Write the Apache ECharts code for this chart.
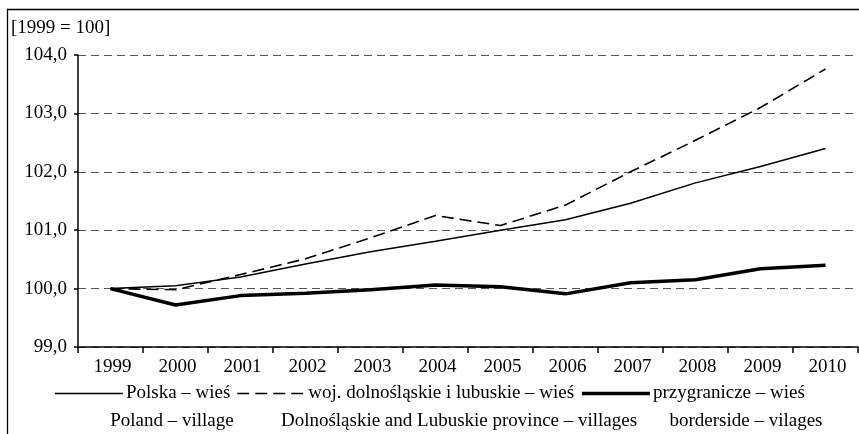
<!DOCTYPE html>
<html>
<head>
<meta charset="utf-8">
<script src="https://cdn.jsdelivr.net/npm/echarts@6/dist/echarts.min.js"></script>
<style>
html,body{margin:0;padding:0;background:#fff;}
#c{width:859px;height:434px;}
</style>
</head>
<body>
<div id="c"></div>
<script>
var years = ['1999','2000','2001','2002','2003','2004','2005','2006','2007','2008','2009','2010'];
var polska = [100.0, 100.05, 100.2, 100.42, 100.63, 100.81, 101.0, 101.18, 101.46, 101.81, 102.09, 102.4];
var dolnoLubuskie = [100.0, 99.98, 100.24, 100.51, 100.87, 101.25, 101.08, 101.43, 102.0, 102.54, 103.1, 103.76];
var przygranicze = [100.0, 99.72, 99.88, 99.92, 99.98, 100.06, 100.03, 99.91, 100.1, 100.15, 100.34, 100.4];
var seriesNames = ['Polska – wieś', 'woj. dolnośląskie i lubuskie – wieś', 'przygranicze – wieś'];
var englishNames = ['Poland – village', 'Dolnośląskie and Lubuskie province – villages', 'borderside – vilages'];
var yUnitLabel = '[1999 = 100]';

var FONT = "'Liberation Serif','Times New Roman',serif";
var FS = 19;
var lineStyles = [
  {color: '#000', width: 1.5, type: 'solid'},
  {color: '#000', width: 1.6, type: [12, 6]},
  {color: '#000', width: 3.5, type: 'solid'}
];
var chart = echarts.init(document.getElementById('c'), null, {renderer: 'canvas'});
var txt = {fontFamily: FONT, fontSize: FS, fill: '#000'};

chart.setOption({
  animation: false,
  backgroundColor: '#fff',
  textStyle: {fontFamily: FONT, color: '#000'},
  grid: {left: 78, right: 1, top: 55, bottom: 87, containLabel: false},
  graphic: [
    {type: 'rect', shape: {x: 7.5, y: 9.5, width: 1000, height: 600}, style: {fill: null, stroke: '#000', lineWidth: 1.3}, silent: true, z: -1},
    {type: 'text', x: 11, y: 28, style: Object.assign({text: yUnitLabel, verticalAlign: 'middle'}, txt)},
    {type: 'text', x: 172, y: 421, style: Object.assign({text: englishNames[0], align: 'center', verticalAlign: 'middle'}, txt)},
    {type: 'text', x: 459, y: 421, style: Object.assign({text: englishNames[1], align: 'center', verticalAlign: 'middle'}, txt)},
    {type: 'text', x: 746, y: 421, style: Object.assign({text: englishNames[2], align: 'center', verticalAlign: 'middle'}, txt)}
  ],
  legend: {
    left: 'center',
    top: 379,
    itemWidth: 68,
    itemHeight: 14,
    itemGap: 6,
    itemStyle: {opacity: 0},
    textStyle: {fontFamily: FONT, fontSize: FS, color: '#000', padding: [0,0,0,-2]},
    data: seriesNames.map(function(n, i){
      return {name: n, lineStyle: lineStyles[i], itemStyle: {opacity: 0}};
    })
  },
  xAxis: {
    type: 'category',
    data: years,
    boundaryGap: true,
    axisLine: {lineStyle: {color: '#000', width: 1.5}},
    axisTick: {show: true, length: 6, alignWithLabel: false, lineStyle: {color: '#000', width: 1.5}},
    axisLabel: {color: '#000', fontFamily: FONT, fontSize: FS, margin: 11, padding: [0,0,0,4]},
    splitLine: {show: false}
  },
  yAxis: {
    type: 'value',
    min: 99,
    max: 104,
    interval: 1,
    axisLine: {show: true, lineStyle: {color: '#000', width: 1.5}},
    axisTick: {show: true, length: 4, lineStyle: {color: '#000', width: 1.5}},
    axisLabel: {color: '#000', fontFamily: FONT, fontSize: FS, margin: 11,
      formatter: function(v){ return v.toFixed(1).replace('.', ','); }},
    splitLine: {show: true, lineStyle: {color: '#555', width: 1.2, type: [8, 5]}}
  },
  series: [
    {name: seriesNames[0], type: 'line', data: polska, showSymbol: false, symbol: 'none',
     lineStyle: lineStyles[0], itemStyle: {color: '#000'}},
    {name: seriesNames[1], type: 'line', data: dolnoLubuskie, showSymbol: false, symbol: 'none',
     lineStyle: lineStyles[1], itemStyle: {color: '#000'}},
    {name: seriesNames[2], type: 'line', data: przygranicze, showSymbol: false, symbol: 'none',
     lineStyle: lineStyles[2], itemStyle: {color: '#000'}}
  ]
});
</script>
</body>
</html>
